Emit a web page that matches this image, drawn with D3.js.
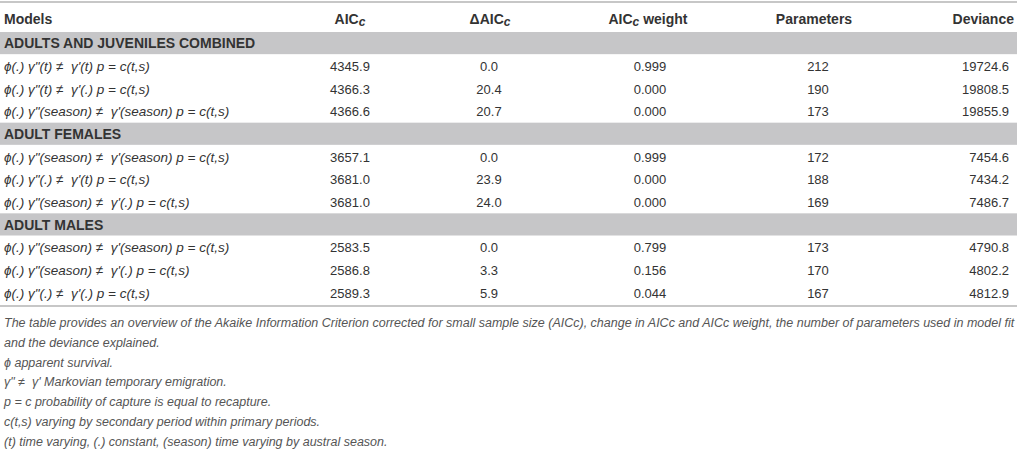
<!DOCTYPE html>
<html>
<head>
<meta charset="utf-8">
<script src="https://cdn.jsdelivr.net/npm/d3@7"></script>
<style>
  body { margin: 0; background: #fff; }
  svg { display: block; font-family: "Liberation Sans", Arial, sans-serif; }
</style>
</head>
<body>
<svg id="tabela"></svg>
<script>
// dados da tabela
const grupos = ['ADULTS AND JUVENILES COMBINED', 'ADULT FEMALES', 'ADULT MALES'];
const modelos = [
    ['ϕ(.) γ"(t) ≠  γ\'(t) p = c(t,s)', 'ϕ(.) γ"(t) ≠  γ\'(.) p = c(t,s)', 'ϕ(.) γ"(season) ≠  γ\'(season) p = c(t,s)'],
    ['ϕ(.) γ"(season) ≠  γ\'(season) p = c(t,s)', 'ϕ(.) γ"(.) ≠  γ\'(t) p = c(t,s)', 'ϕ(.) γ"(season) ≠  γ\'(.) p = c(t,s)'],
    ['ϕ(.) γ"(season) ≠  γ\'(season) p = c(t,s)', 'ϕ(.) γ"(season) ≠  γ\'(.) p = c(t,s)', 'ϕ(.) γ"(.) ≠  γ\'(.) p = c(t,s)']
];
const aicc = [[4345.9, 4366.3, 4366.6], [3657.1, 3681.0, 3681.0], [2583.5, 2586.8, 2589.3]];
const deltaAicc = [[0.0, 20.4, 20.7], [0.0, 23.9, 24.0], [0.0, 3.3, 5.9]];
const pesos = [[0.999, 0.000, 0.000], [0.999, 0.000, 0.000], [0.799, 0.156, 0.044]];
const parametros = [[212, 190, 173], [172, 188, 169], [173, 170, 167]];
const deviancia = [[19724.6, 19808.5, 19855.9], [7454.6, 7434.2, 7486.7], [4790.8, 4802.2, 4812.9]];
const notas = [
    'The table provides an overview of the Akaike Information Criterion corrected for small sample size (AICc), change in AICc and AICc weight, the number of parameters used in model fit',
    'and the deviance explained.',
    'ϕ apparent survival.',
    'γ" ≠  γ\' Markovian temporary emigration.',
    'p = c probability of capture is equal to recapture.',
    'c(t,s) varying by secondary period within primary periods.',
    '(t) time varying, (.) constant, (season) time varying by austral season.'
];

const largura = 1017, altura = 452;
const svg = d3.select('#tabela').attr('width', largura).attr('height', altura);

const corTexto = '#333';
const corFaixa = '#c6c6c8';
const corLinha = '#b4b4b4';

// linhas da tabela: faixa de grupo + 3 modelos por grupo
let linhas = [];
grupos.forEach((g, i) => {
    linhas.push({tipo: 'grupo', nome: g, id: 'g' + i});
    modelos[i].forEach((m, j) => {
        linhas.push({
            tipo: 'modelo', id: 'm' + i + '_' + j, nome: m,
            aicc: aicc[i][j], delta: deltaAicc[i][j], peso: pesos[i][j],
            par: parametros[i][j], dev: deviancia[i][j]
        });
    });
});

const fnY = d3.scaleBand()
    .domain(linhas.map(d => d.id))
    .range([32, 304])
    .paddingInner(0);

const colunas = [
    {chave: 'aicc', x: 350, anc: 'middle', fmt: d3.format('.1f')},
    {chave: 'delta', x: 489, anc: 'middle', fmt: d3.format('.1f')},
    {chave: 'peso', x: 650, anc: 'middle', fmt: d3.format('.3f')},
    {chave: 'par', x: 818, anc: 'middle', fmt: d3.format('d')},
    {chave: 'dev', x: 1009, anc: 'end', fmt: d3.format('.1f')}
];

// linhas horizontais de topo e base
svg.append('line').attr('x1', 0).attr('x2', largura).attr('y1', 2).attr('y2', 2)
    .attr('stroke', corLinha).attr('stroke-width', 1.3);
svg.append('line').attr('x1', 0).attr('x2', largura).attr('y1', fnY.range()[1] + 2).attr('y2', fnY.range()[1] + 2)
    .attr('stroke', corLinha).attr('stroke-width', 1.3);

// cabecalho
const cab = svg.append('g').attr('font-weight', 'bold').attr('font-size', 14).attr('fill', corTexto);
cab.append('text').attr('x', 4).attr('y', 24).text('Models');
function aiccRotulo(sel, x, y, prefixo, sufixo) {
    let t = sel.append('text').attr('x', x).attr('y', y).attr('text-anchor', 'middle');
    t.append('tspan').text(prefixo + 'AIC');
    t.append('tspan').attr('font-style', 'italic').attr('font-size', 12).attr('dy', 2).text('c');
    if (sufixo) t.append('tspan').attr('dy', -2).text(sufixo);
    return t;
}
aiccRotulo(cab, 350, 24, '', '');
aiccRotulo(cab, 490, 24, 'Δ', '');
aiccRotulo(cab, 648, 24, '', ' weight');
cab.append('text').attr('x', 814).attr('y', 24).attr('text-anchor', 'middle').text('Parameters');
cab.append('text').attr('x', 1014).attr('y', 24).attr('text-anchor', 'end').text('Deviance');

// faixas de grupo
const faixas = svg.selectAll('.faixa').data(linhas.filter(d => d.tipo === 'grupo'))
    .enter().append('g').classed('faixa', true)
    .attr('transform', d => 'translate(0,' + fnY(d.id) + ')');
faixas.append('rect').attr('x', 0).attr('width', largura)
    .attr('height', fnY.bandwidth() - 0.5).attr('fill', corFaixa);
faixas.append('text').attr('x', 4).attr('y', fnY.bandwidth() / 2 + 5)
    .attr('font-weight', 'bold').attr('font-size', 14).attr('fill', corTexto)
    .text(d => d.nome);

// linhas de modelo
const mods = svg.selectAll('.modelo').data(linhas.filter(d => d.tipo === 'modelo'))
    .enter().append('g').classed('modelo', true)
    .attr('transform', d => 'translate(0,' + (fnY(d.id) + fnY.bandwidth() / 2 + 5) + ')')
    .attr('font-size', 13).attr('fill', corTexto);
mods.append('text').attr('x', 4).attr('font-style', 'italic').attr('font-size', 13.5)
    .style('white-space', 'pre')
    .text(d => d.nome);
colunas.forEach(c => {
    mods.append('text').attr('x', c.x).attr('text-anchor', c.anc).text(d => c.fmt(d[c.chave]));
});

// notas de rodape
svg.append('g').attr('font-size', 12.5).attr('font-style', 'italic').attr('fill', '#555')
    .selectAll('text').data(notas).enter().append('text')
    .style('white-space', 'pre')
    .attr('x', 4).attr('y', (d, i) => 327 + i * 19.8)
    .text(d => d);
</script>
</body>
</html>
